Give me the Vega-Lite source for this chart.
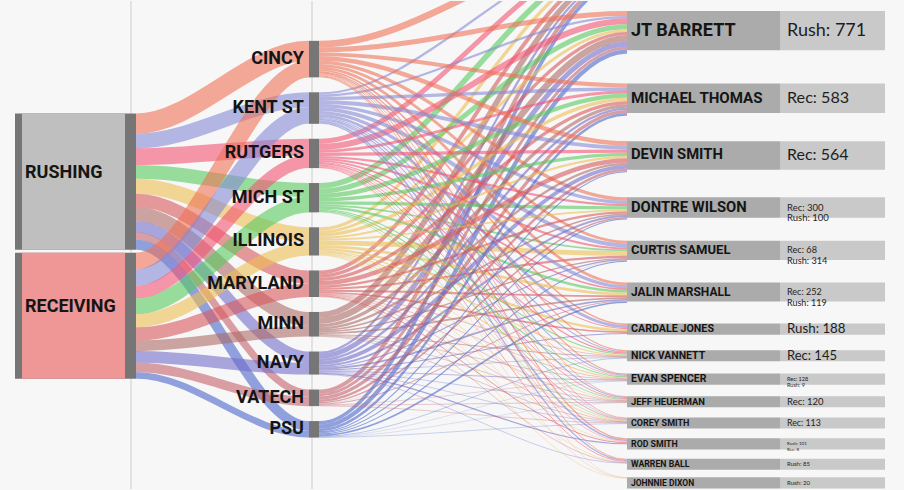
{
"$schema":"https://vega.github.io/schema/vega-lite/v6.json",
"width":904,"height":490,
"autosize":{"type":"fit","contains":"padding"},
"padding":0,
"background":"#f7f7f7",
"config":{"view":{"stroke":null}},
"datasets":{
"d":[
{"t":"Rush","o":"CINCY","p":"EZEKIEL ELLIOTT","v":120},{"t":"Rush","o":"KENT ST","p":"EZEKIEL ELLIOTT","v":40},{"t":"Rush","o":"RUTGERS","p":"EZEKIEL ELLIOTT","v":90},{"t":"Rush","o":"MICH ST","p":"EZEKIEL ELLIOTT","v":100},{"t":"Rush","o":"ILLINOIS","p":"EZEKIEL ELLIOTT","v":60},{"t":"Rush","o":"MARYLAND","p":"EZEKIEL ELLIOTT","v":70},{"t":"Rush","o":"MINN","p":"EZEKIEL ELLIOTT","v":100},{"t":"Rush","o":"NAVY","p":"EZEKIEL ELLIOTT","v":40},{"t":"Rush","o":"VATECH","p":"EZEKIEL ELLIOTT","v":70},{"t":"Rush","o":"PSU","p":"EZEKIEL ELLIOTT","v":63},
{"t":"Rush","o":"CINCY","p":"JT BARRETT","v":90},{"t":"Rush","o":"KENT ST","p":"JT BARRETT","v":40},{"t":"Rush","o":"RUTGERS","p":"JT BARRETT","v":110},{"t":"Rush","o":"MICH ST","p":"JT BARRETT","v":90},{"t":"Rush","o":"ILLINOIS","p":"JT BARRETT","v":50},{"t":"Rush","o":"MARYLAND","p":"JT BARRETT","v":60},{"t":"Rush","o":"MINN","p":"JT BARRETT","v":115},{"t":"Rush","o":"NAVY","p":"JT BARRETT","v":90},{"t":"Rush","o":"VATECH","p":"JT BARRETT","v":50},{"t":"Rush","o":"PSU","p":"JT BARRETT","v":76},
{"t":"Rush","o":"CINCY","p":"CURTIS SAMUEL","v":40},{"t":"Rush","o":"KENT ST","p":"CURTIS SAMUEL","v":60},{"t":"Rush","o":"RUTGERS","p":"CURTIS SAMUEL","v":30},{"t":"Rush","o":"MICH ST","p":"CURTIS SAMUEL","v":20},{"t":"Rush","o":"ILLINOIS","p":"CURTIS SAMUEL","v":80},{"t":"Rush","o":"MARYLAND","p":"CURTIS SAMUEL","v":30},{"t":"Rush","o":"MINN","p":"CURTIS SAMUEL","v":20},{"t":"Rush","o":"NAVY","p":"CURTIS SAMUEL","v":14},{"t":"Rush","o":"PSU","p":"CURTIS SAMUEL","v":20},
{"t":"Rush","o":"CINCY","p":"CARDALE JONES","v":30},{"t":"Rush","o":"KENT ST","p":"CARDALE JONES","v":50},{"t":"Rush","o":"RUTGERS","p":"CARDALE JONES","v":20},{"t":"Rush","o":"ILLINOIS","p":"CARDALE JONES","v":40},{"t":"Rush","o":"MARYLAND","p":"CARDALE JONES","v":30},{"t":"Rush","o":"NAVY","p":"CARDALE JONES","v":18},
{"t":"Rush","o":"CINCY","p":"JALIN MARSHALL","v":20},{"t":"Rush","o":"KENT ST","p":"JALIN MARSHALL","v":15},{"t":"Rush","o":"RUTGERS","p":"JALIN MARSHALL","v":10},{"t":"Rush","o":"MICH ST","p":"JALIN MARSHALL","v":15},{"t":"Rush","o":"ILLINOIS","p":"JALIN MARSHALL","v":10},{"t":"Rush","o":"MARYLAND","p":"JALIN MARSHALL","v":15},{"t":"Rush","o":"MINN","p":"JALIN MARSHALL","v":10},{"t":"Rush","o":"NAVY","p":"JALIN MARSHALL","v":10},{"t":"Rush","o":"VATECH","p":"JALIN MARSHALL","v":4},{"t":"Rush","o":"PSU","p":"JALIN MARSHALL","v":10},
{"t":"Rush","o":"CINCY","p":"ROD SMITH","v":20},{"t":"Rush","o":"KENT ST","p":"ROD SMITH","v":30},{"t":"Rush","o":"RUTGERS","p":"ROD SMITH","v":10},{"t":"Rush","o":"ILLINOIS","p":"ROD SMITH","v":10},{"t":"Rush","o":"MARYLAND","p":"ROD SMITH","v":15},{"t":"Rush","o":"NAVY","p":"ROD SMITH","v":16},
{"t":"Rush","o":"CINCY","p":"DONTRE WILSON","v":20},{"t":"Rush","o":"KENT ST","p":"DONTRE WILSON","v":10},{"t":"Rush","o":"RUTGERS","p":"DONTRE WILSON","v":10},{"t":"Rush","o":"MICH ST","p":"DONTRE WILSON","v":20},{"t":"Rush","o":"MARYLAND","p":"DONTRE WILSON","v":10},{"t":"Rush","o":"MINN","p":"DONTRE WILSON","v":10},{"t":"Rush","o":"NAVY","p":"DONTRE WILSON","v":5},{"t":"Rush","o":"VATECH","p":"DONTRE WILSON","v":6},{"t":"Rush","o":"PSU","p":"DONTRE WILSON","v":9},
{"t":"Rush","o":"CINCY","p":"WARREN BALL","v":15},{"t":"Rush","o":"KENT ST","p":"WARREN BALL","v":25},{"t":"Rush","o":"RUTGERS","p":"WARREN BALL","v":15},{"t":"Rush","o":"ILLINOIS","p":"WARREN BALL","v":10},{"t":"Rush","o":"MARYLAND","p":"WARREN BALL","v":10},{"t":"Rush","o":"NAVY","p":"WARREN BALL","v":10},
{"t":"Rush","o":"CINCY","p":"JOHNNIE DIXON","v":5},{"t":"Rush","o":"RUTGERS","p":"JOHNNIE DIXON","v":5},{"t":"Rush","o":"ILLINOIS","p":"JOHNNIE DIXON","v":10},
{"t":"Rush","o":"MICH ST","p":"EVAN SPENCER","v":5},{"t":"Rush","o":"NAVY","p":"EVAN SPENCER","v":4},
{"t":"Rec","o":"CINCY","p":"MICHAEL THOMAS","v":70},{"t":"Rec","o":"KENT ST","p":"MICHAEL THOMAS","v":60},{"t":"Rec","o":"RUTGERS","p":"MICHAEL THOMAS","v":50},{"t":"Rec","o":"MICH ST","p":"MICHAEL THOMAS","v":80},{"t":"Rec","o":"ILLINOIS","p":"MICHAEL THOMAS","v":60},{"t":"Rec","o":"MARYLAND","p":"MICHAEL THOMAS","v":60},{"t":"Rec","o":"MINN","p":"MICHAEL THOMAS","v":60},{"t":"Rec","o":"NAVY","p":"MICHAEL THOMAS","v":40},{"t":"Rec","o":"VATECH","p":"MICHAEL THOMAS","v":60},{"t":"Rec","o":"PSU","p":"MICHAEL THOMAS","v":43},
{"t":"Rec","o":"CINCY","p":"DEVIN SMITH","v":80},{"t":"Rec","o":"KENT ST","p":"DEVIN SMITH","v":70},{"t":"Rec","o":"RUTGERS","p":"DEVIN SMITH","v":60},{"t":"Rec","o":"MICH ST","p":"DEVIN SMITH","v":60},{"t":"Rec","o":"ILLINOIS","p":"DEVIN SMITH","v":40},{"t":"Rec","o":"MARYLAND","p":"DEVIN SMITH","v":80},{"t":"Rec","o":"MINN","p":"DEVIN SMITH","v":40},{"t":"Rec","o":"NAVY","p":"DEVIN SMITH","v":70},{"t":"Rec","o":"VATECH","p":"DEVIN SMITH","v":44},{"t":"Rec","o":"PSU","p":"DEVIN SMITH","v":20},
{"t":"Rec","o":"CINCY","p":"DONTRE WILSON","v":40},{"t":"Rec","o":"KENT ST","p":"DONTRE WILSON","v":50},{"t":"Rec","o":"RUTGERS","p":"DONTRE WILSON","v":30},{"t":"Rec","o":"MICH ST","p":"DONTRE WILSON","v":40},{"t":"Rec","o":"ILLINOIS","p":"DONTRE WILSON","v":30},{"t":"Rec","o":"MARYLAND","p":"DONTRE WILSON","v":30},{"t":"Rec","o":"MINN","p":"DONTRE WILSON","v":20},{"t":"Rec","o":"NAVY","p":"DONTRE WILSON","v":30},{"t":"Rec","o":"VATECH","p":"DONTRE WILSON","v":20},{"t":"Rec","o":"PSU","p":"DONTRE WILSON","v":10},
{"t":"Rec","o":"CINCY","p":"JALIN MARSHALL","v":30},{"t":"Rec","o":"KENT ST","p":"JALIN MARSHALL","v":40},{"t":"Rec","o":"RUTGERS","p":"JALIN MARSHALL","v":20},{"t":"Rec","o":"MICH ST","p":"JALIN MARSHALL","v":30},{"t":"Rec","o":"ILLINOIS","p":"JALIN MARSHALL","v":40},{"t":"Rec","o":"MARYLAND","p":"JALIN MARSHALL","v":20},{"t":"Rec","o":"MINN","p":"JALIN MARSHALL","v":20},{"t":"Rec","o":"NAVY","p":"JALIN MARSHALL","v":20},{"t":"Rec","o":"VATECH","p":"JALIN MARSHALL","v":12},{"t":"Rec","o":"PSU","p":"JALIN MARSHALL","v":20},
{"t":"Rec","o":"CINCY","p":"NICK VANNETT","v":20},{"t":"Rec","o":"KENT ST","p":"NICK VANNETT","v":20},{"t":"Rec","o":"RUTGERS","p":"NICK VANNETT","v":20},{"t":"Rec","o":"MICH ST","p":"NICK VANNETT","v":20},{"t":"Rec","o":"ILLINOIS","p":"NICK VANNETT","v":20},{"t":"Rec","o":"MARYLAND","p":"NICK VANNETT","v":10},{"t":"Rec","o":"MINN","p":"NICK VANNETT","v":15},{"t":"Rec","o":"NAVY","p":"NICK VANNETT","v":10},{"t":"Rec","o":"PSU","p":"NICK VANNETT","v":10},
{"t":"Rec","o":"CINCY","p":"EVAN SPENCER","v":20},{"t":"Rec","o":"KENT ST","p":"EVAN SPENCER","v":20},{"t":"Rec","o":"RUTGERS","p":"EVAN SPENCER","v":10},{"t":"Rec","o":"MICH ST","p":"EVAN SPENCER","v":15},{"t":"Rec","o":"ILLINOIS","p":"EVAN SPENCER","v":20},{"t":"Rec","o":"MARYLAND","p":"EVAN SPENCER","v":10},{"t":"Rec","o":"MINN","p":"EVAN SPENCER","v":10},{"t":"Rec","o":"NAVY","p":"EVAN SPENCER","v":10},{"t":"Rec","o":"VATECH","p":"EVAN SPENCER","v":8},{"t":"Rec","o":"PSU","p":"EVAN SPENCER","v":5},
{"t":"Rec","o":"CINCY","p":"JEFF HEUERMAN","v":15},{"t":"Rec","o":"KENT ST","p":"JEFF HEUERMAN","v":20},{"t":"Rec","o":"RUTGERS","p":"JEFF HEUERMAN","v":15},{"t":"Rec","o":"MICH ST","p":"JEFF HEUERMAN","v":15},{"t":"Rec","o":"ILLINOIS","p":"JEFF HEUERMAN","v":10},{"t":"Rec","o":"MARYLAND","p":"JEFF HEUERMAN","v":10},{"t":"Rec","o":"MINN","p":"JEFF HEUERMAN","v":10},{"t":"Rec","o":"NAVY","p":"JEFF HEUERMAN","v":10},{"t":"Rec","o":"VATECH","p":"JEFF HEUERMAN","v":10},{"t":"Rec","o":"PSU","p":"JEFF HEUERMAN","v":5},
{"t":"Rec","o":"CINCY","p":"COREY SMITH","v":15},{"t":"Rec","o":"KENT ST","p":"COREY SMITH","v":10},{"t":"Rec","o":"RUTGERS","p":"COREY SMITH","v":15},{"t":"Rec","o":"MICH ST","p":"COREY SMITH","v":10},{"t":"Rec","o":"ILLINOIS","p":"COREY SMITH","v":15},{"t":"Rec","o":"MARYLAND","p":"COREY SMITH","v":10},{"t":"Rec","o":"MINN","p":"COREY SMITH","v":10},{"t":"Rec","o":"NAVY","p":"COREY SMITH","v":10},{"t":"Rec","o":"VATECH","p":"COREY SMITH","v":10},{"t":"Rec","o":"PSU","p":"COREY SMITH","v":8},
{"t":"Rec","o":"CINCY","p":"CURTIS SAMUEL","v":10},{"t":"Rec","o":"KENT ST","p":"CURTIS SAMUEL","v":10},{"t":"Rec","o":"RUTGERS","p":"CURTIS SAMUEL","v":10},{"t":"Rec","o":"MICH ST","p":"CURTIS SAMUEL","v":10},{"t":"Rec","o":"ILLINOIS","p":"CURTIS SAMUEL","v":5},{"t":"Rec","o":"MARYLAND","p":"CURTIS SAMUEL","v":8},{"t":"Rec","o":"MINN","p":"CURTIS SAMUEL","v":5},{"t":"Rec","o":"NAVY","p":"CURTIS SAMUEL","v":5},{"t":"Rec","o":"VATECH","p":"CURTIS SAMUEL","v":5},
{"t":"Rec","o":"MARYLAND","p":"ROD SMITH","v":2},{"t":"Rec","o":"NAVY","p":"ROD SMITH","v":5},{"t":"Rec","o":"VATECH","p":"ROD SMITH","v":1}
],
"opp":[{"o":"CINCY","oi":0},{"o":"KENT ST","oi":1},{"o":"RUTGERS","oi":2},{"o":"MICH ST","oi":3},{"o":"ILLINOIS","oi":4},{"o":"MARYLAND","oi":5},{"o":"MINN","oi":6},{"o":"NAVY","oi":7},{"o":"VATECH","oi":8},{"o":"PSU","oi":9}],
"pl":[{"p":"EZEKIEL ELLIOTT","pi":0},{"p":"JT BARRETT","pi":1},{"p":"MICHAEL THOMAS","pi":2},{"p":"DEVIN SMITH","pi":3},{"p":"DONTRE WILSON","pi":4},{"p":"CURTIS SAMUEL","pi":5},{"p":"JALIN MARSHALL","pi":6},{"p":"CARDALE JONES","pi":7},{"p":"NICK VANNETT","pi":8},{"p":"EVAN SPENCER","pi":9},{"p":"JEFF HEUERMAN","pi":10},{"p":"COREY SMITH","pi":11},{"p":"ROD SMITH","pi":12},{"p":"WARREN BALL","pi":13},{"p":"JOHNNIE DIXON","pi":14}],
"ty":[{"t":"Rush","ti":0,"lab":"RUSHING"},{"t":"Rec","ti":1,"lab":"RECEIVING"}]
},
"layer":[
{"data":{"name":"ty"},
 "transform":[{"calculate":"datum.ti == 0 ? 131 : 312","as":"xr"}],
 "mark":{"type":"rule","color":"#cdcdcd","strokeWidth":1},
 "encoding":{"x":{"field":"xr","type":"quantitative","scale":{"domain":[0,904],"nice":false,"zero":false},"axis":null}}},
{"data":{"name":"d"},
 "transform":[
  {"lookup":"o","from":{"data":{"name":"opp"},"key":"o","fields":["oi"]}},
  {"lookup":"t","from":{"data":{"name":"ty"},"key":"t","fields":["ti"]}},
  {"aggregate":[{"op":"sum","field":"v","as":"v"}],"groupby":["t","ti","o","oi"]},
  {"calculate":"datum.ti * 100 + datum.oi","as":"ka"},
  {"calculate":"datum.oi * 100 + datum.ti","as":"kb"},
  {"stack":"v","groupby":[],"sort":[{"field":"ka"}],"as":["cs","cs2"]},
  {"stack":"v","groupby":[],"sort":[{"field":"kb"}],"as":["ct","ct2"]},
  {"calculate":"2034 + datum.cs + datum.ti * 54 + datum.v / 2","as":"ya"},
  {"calculate":"datum.ya","as":"yb"},
  {"calculate":"720 + datum.ct + datum.oi * 270 + datum.v / 2","as":"yc"},
  {"calculate":"datum.yc","as":"yd"},
  {"fold":["ya","yb","yc","yd"],"as":["k","yy"]},
  {"calculate":"datum.k == 'ya' ? 136 : datum.k == 'yb' ? 137 : datum.k == 'yc' ? 308 : 309","as":"xx"},
  {"calculate":"datum.t + '|' + datum.o","as":"id"}
 ],
 "mark":{"type":"line","interpolate":"monotone","opacity":0.6,"strokeCap":"butt"},
 "encoding":{
  "x":{"field":"xx","type":"quantitative","scale":{"domain":[0,904],"nice":false,"zero":false},"axis":null},
  "y":{"field":"yy","type":"quantitative","scale":{"domain":[0,8820],"nice":false,"zero":false,"reverse":true},"axis":null},
  "detail":{"field":"id","type":"nominal"},
  "order":{"field":"xx","type":"quantitative"},
  "stroke":{"field":"o","type":"nominal","scale":{"domain":["CINCY","KENT ST","RUTGERS","MICH ST","ILLINOIS","MARYLAND","MINN","NAVY","VATECH","PSU"],"range":["#ef7257","#8689d6","#f45473","#59ca5f","#edbe54","#d9595c","#ae6b66","#736cca","#c3636d","#4a66ca"]},"legend":null},
  "strokeWidth":{"field":"v","type":"quantitative","scale":{"domain":[0,1800],"range":[0,100]},"legend":null}
 }},
{"data":{"name":"d"},
 "transform":[
  {"lookup":"o","from":{"data":{"name":"opp"},"key":"o","fields":["oi"]}},
  {"lookup":"p","from":{"data":{"name":"pl"},"key":"p","fields":["pi"]}},
  {"aggregate":[{"op":"sum","field":"v","as":"v"}],"groupby":["o","oi","p","pi"]},
  {"calculate":"datum.oi * 100 + datum.pi","as":"ka"},
  {"calculate":"datum.pi * 100 + datum.oi","as":"kb"},
  {"stack":"v","groupby":[],"sort":[{"field":"ka"}],"as":["cs","cs2"]},
  {"stack":"v","groupby":[],"sort":[{"field":"kb"}],"as":["ca","ca2"]},
  {"stack":"v","groupby":["p"],"sort":[{"field":"oi"}],"as":["cw","cw2"]},
  {"calculate":"datum.pi == 0 ? datum.v : 0","as":"hv"},
  {"joinaggregate":[{"op":"sum","field":"hv","as":"H"}]},
  {"calculate":"720 + datum.cs + datum.oi * 270 + datum.v / 2","as":"ya"},
  {"calculate":"datum.ya","as":"yb"},
  {"calculate":"180 - 215 - 1.42 * datum.H + 1.42 * (datum.ca - datum.cw) + 215 * datum.pi + datum.cw + datum.v / 2","as":"yc"},
  {"calculate":"datum.yc","as":"yd"},
  {"fold":["ya","yb","yc","yd"],"as":["k","yy"]},
  {"calculate":"datum.k == 'ya' ? 319 : datum.k == 'yb' ? 320 : datum.k == 'yc' ? 626 : 627","as":"xx"},
  {"calculate":"datum.o + '|' + datum.p","as":"id"}
 ],
 "mark":{"type":"line","interpolate":"monotone","opacity":0.6,"strokeCap":"butt","clip":true},
 "encoding":{
  "x":{"field":"xx","type":"quantitative","scale":{"domain":[0,904],"nice":false,"zero":false},"axis":null},
  "y":{"field":"yy","type":"quantitative","scale":{"domain":[0,8820],"nice":false,"zero":false,"reverse":true},"axis":null},
  "detail":{"field":"id","type":"nominal"},
  "order":{"field":"xx","type":"quantitative"},
  "stroke":{"field":"o","type":"nominal","scale":{"domain":["CINCY","KENT ST","RUTGERS","MICH ST","ILLINOIS","MARYLAND","MINN","NAVY","VATECH","PSU"],"range":["#ef7257","#8689d6","#f45473","#59ca5f","#edbe54","#d9595c","#ae6b66","#736cca","#c3636d","#4a66ca"]},"legend":null},
  "strokeWidth":{"field":"v","type":"quantitative","scale":{"domain":[0,1800],"range":[0,100]},"legend":null}
 }},
{"data":{"name":"d"},
 "transform":[
  {"lookup":"t","from":{"data":{"name":"ty"},"key":"t","fields":["ti","lab"]}},
  {"aggregate":[{"op":"sum","field":"v","as":"v"}],"groupby":["t","ti","lab"]},
  {"stack":"v","groupby":[],"sort":[{"field":"ti"}],"as":["cs","cs2"]},
  {"calculate":"2034 + datum.cs + datum.ti * 54","as":"y0"},
  {"calculate":"datum.y0 + datum.v","as":"y1"},
  {"calculate":"(datum.y0 + datum.y1) / 2","as":"ym"},
  {"calculate":"15","as":"xa"},{"calculate":"136","as":"xb"},{"calculate":"22","as":"xc"},{"calculate":"125","as":"xd"},{"calculate":"25","as":"xt"}
 ],
 "layer":[
  {"mark":{"type":"rect","color":"#767676"},
   "encoding":{
    "x":{"field":"xa","type":"quantitative","scale":{"domain":[0,904],"nice":false,"zero":false},"axis":null},
    "x2":{"field":"xb"},
    "y":{"field":"y0","type":"quantitative","scale":{"domain":[0,8820],"nice":false,"zero":false,"reverse":true},"axis":null},
    "y2":{"field":"y1"}}},
  {"mark":{"type":"rect"},
   "encoding":{
    "x":{"field":"xc","type":"quantitative","scale":{"domain":[0,904],"nice":false,"zero":false},"axis":null},
    "x2":{"field":"xd"},
    "y":{"field":"y0","type":"quantitative","scale":{"domain":[0,8820],"nice":false,"zero":false,"reverse":true},"axis":null},
    "y2":{"field":"y1"},
    "fill":{"field":"t","type":"nominal","scale":{"domain":["Rush","Rec"],"range":["#bfbfbf","#ef9696"]},"legend":null}}},
  {"mark":{"type":"text","align":"left","baseline":"middle","dy":-9,"font":"Roboto","fontWeight":"bold","fontSize":18,"color":"#151515"},
   "encoding":{
    "x":{"field":"xt","type":"quantitative","scale":{"domain":[0,904],"nice":false,"zero":false},"axis":null},
    "y":{"field":"ym","type":"quantitative","scale":{"domain":[0,8820],"nice":false,"zero":false,"reverse":true},"axis":null},
    "text":{"field":"lab","type":"nominal"}}}
 ]},
{"data":{"name":"d"},
 "transform":[
  {"lookup":"o","from":{"data":{"name":"opp"},"key":"o","fields":["oi"]}},
  {"aggregate":[{"op":"sum","field":"v","as":"v"}],"groupby":["o","oi"]},
  {"stack":"v","groupby":[],"sort":[{"field":"oi"}],"as":["cs","cs2"]},
  {"calculate":"720 + datum.cs + datum.oi * 270","as":"y0"},
  {"calculate":"datum.y0 + datum.v","as":"y1"},
  {"calculate":"(datum.y0 + datum.y1) / 2","as":"ym"},
  {"calculate":"309","as":"xa"},{"calculate":"319","as":"xb"},{"calculate":"304","as":"xt"}
 ],
 "layer":[
  {"mark":{"type":"rect","color":"#767676"},
   "encoding":{
    "x":{"field":"xa","type":"quantitative","scale":{"domain":[0,904],"nice":false,"zero":false},"axis":null},
    "x2":{"field":"xb"},
    "y":{"field":"y0","type":"quantitative","scale":{"domain":[0,8820],"nice":false,"zero":false,"reverse":true},"axis":null},
    "y2":{"field":"y1"}}},
  {"mark":{"type":"text","align":"right","baseline":"middle","font":"Roboto","fontWeight":"bold","fontSize":18,"color":"#151515"},
   "encoding":{
    "x":{"field":"xt","type":"quantitative","scale":{"domain":[0,904],"nice":false,"zero":false},"axis":null},
    "y":{"field":"ym","type":"quantitative","scale":{"domain":[0,8820],"nice":false,"zero":false,"reverse":true},"axis":null},
    "text":{"field":"o","type":"nominal"}}}
 ]},
{"data":{"name":"d"},
 "transform":[
  {"lookup":"p","from":{"data":{"name":"pl"},"key":"p","fields":["pi"]}},
  {"calculate":"datum.t == 'Rush' ? datum.v : 0","as":"rv"},
  {"calculate":"datum.t == 'Rec' ? datum.v : 0","as":"cv"},
  {"aggregate":[{"op":"sum","field":"v","as":"v"},{"op":"sum","field":"rv","as":"r"},{"op":"sum","field":"cv","as":"c"}],"groupby":["p","pi"]},
  {"stack":"v","groupby":[],"sort":[{"field":"pi"}],"as":["cs","cs2"]},
  {"calculate":"datum.pi == 0 ? datum.v : 0","as":"hv"},
  {"joinaggregate":[{"op":"sum","field":"hv","as":"H"}]},
  {"calculate":"180 - 215 - 1.42 * datum.H + 1.42 * datum.cs + 215 * datum.pi","as":"y0"},
  {"calculate":"datum.y0 + max(0.92 * datum.v, 200)","as":"y1"},
  {"calculate":"(datum.y0 + datum.y1) / 2","as":"ym"},
  {"filter":"datum.pi > 0"},
  {"calculate":"datum.r > 0 && datum.c > 0 ? (datum.c >= 10 ? 'Rec: ' + datum.c + '\\n' + 'Rush: ' + datum.r : 'Rush: ' + datum.r + '\\n' + 'Rec: ' + datum.c) : (datum.r > 0 ? 'Rush: ' + datum.r : 'Rec: ' + datum.c)","as":"val"},
  {"calculate":"(datum.r > 0 ? 1 : 0) + (datum.c > 0 ? 1 : 0)","as":"n"},
  {"calculate":"627","as":"xa"},{"calculate":"780","as":"xb"},{"calculate":"885","as":"xc"},{"calculate":"631","as":"xt"},{"calculate":"787","as":"xv"}
 ],
 "layer":[
  {"mark":{"type":"rect","color":"#ababab"},
   "encoding":{
    "x":{"field":"xa","type":"quantitative","scale":{"domain":[0,904],"nice":false,"zero":false},"axis":null},
    "x2":{"field":"xb"},
    "y":{"field":"y0","type":"quantitative","scale":{"domain":[0,8820],"nice":false,"zero":false,"reverse":true},"axis":null},
    "y2":{"field":"y1"}}},
  {"mark":{"type":"rect","color":"#c9c9c9"},
   "encoding":{
    "x":{"field":"xb","type":"quantitative","scale":{"domain":[0,904],"nice":false,"zero":false},"axis":null},
    "x2":{"field":"xc"},
    "y":{"field":"y0","type":"quantitative","scale":{"domain":[0,8820],"nice":false,"zero":false,"reverse":true},"axis":null},
    "y2":{"field":"y1"}}},
  {"mark":{"type":"text","align":"left","baseline":"middle","font":"Roboto","fontWeight":"bold","color":"#151515"},
   "encoding":{
    "x":{"field":"xt","type":"quantitative","scale":{"domain":[0,904],"nice":false,"zero":false},"axis":null},
    "y":{"field":"ym","type":"quantitative","scale":{"domain":[0,8820],"nice":false,"zero":false,"reverse":true},"axis":null},
    "text":{"field":"p","type":"nominal"},
    "size":{"field":"v","type":"quantitative","scale":{"domain":[20,110,137,188,371,400,564,771],"range":[8.5,8.8,10.5,10.7,12,14.8,14.8,18]},"legend":null}}},
  {"transform":[{"filter":"datum.n == 1"}],
   "mark":{"type":"text","align":"left","baseline":"middle","font":"Lato","color":"#1e1e1e"},
   "encoding":{
    "x":{"field":"xv","type":"quantitative","scale":{"domain":[0,904],"nice":false,"zero":false},"axis":null},
    "y":{"field":"ym","type":"quantitative","scale":{"domain":[0,8820],"nice":false,"zero":false,"reverse":true},"axis":null},
    "text":{"field":"val","type":"nominal"},
    "size":{"field":"v","type":"quantitative","scale":{"domain":[20,85,120,145,564,771],"range":[6,6,9.5,13,16,18]},"legend":null}}},
  {"transform":[{"filter":"datum.n == 2 && datum.v >= 300"}],
   "mark":{"type":"text","align":"left","baseline":"middle","lineBreak":"\n","lineHeight":10.5,"font":"Lato","color":"#1e1e1e"},
   "encoding":{
    "x":{"field":"xv","type":"quantitative","scale":{"domain":[0,904],"nice":false,"zero":false},"axis":null},
    "y":{"field":"ym","type":"quantitative","scale":{"domain":[0,8820],"nice":false,"zero":false,"reverse":true},"axis":null},
    "text":{"field":"val","type":"nominal"},
    "size":{"field":"v","type":"quantitative","scale":{"domain":[371,400],"range":[9,9.5]},"legend":null}}},
  {"transform":[{"filter":"datum.n == 2 && datum.v < 300"}],
   "mark":{"type":"text","align":"left","baseline":"middle","lineBreak":"\n","lineHeight":6.2,"font":"Lato","color":"#1e1e1e"},
   "encoding":{
    "x":{"field":"xv","type":"quantitative","scale":{"domain":[0,904],"nice":false,"zero":false},"axis":null},
    "y":{"field":"ym","type":"quantitative","scale":{"domain":[0,8820],"nice":false,"zero":false,"reverse":true},"axis":null},
    "text":{"field":"val","type":"nominal"},
    "size":{"field":"v","type":"quantitative","scale":{"domain":[109,137],"range":[4.5,5.5]},"legend":null}}}
 ],
 "resolve":{"scale":{"size":"independent"}}}
],
"resolve":{"scale":{"size":"independent"}}
}
